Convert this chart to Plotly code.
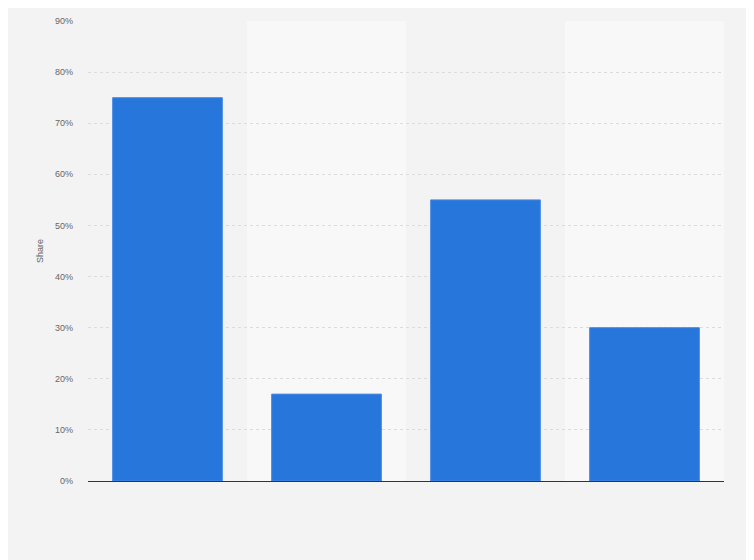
import plotly.graph_objects as go

# four unnamed categories (no labels shown in the source)
categories = ["Category 1", "Category 2", "Category 3", "Category 4"]
share = [75, 17, 55, 30]
tick_values = [0, 10, 20, 30, 40, 50, 60, 70, 80, 90]
tick_labels = ["0%", "10%", "20%", "30%", "40%", "50%", "60%", "70%", "80%", "90%"]

BLUE = "#2776dc"
PAGE = "#f3f3f3"
BAND = "#f8f8f8"


def create_figure():
    fig = go.Figure(go.Bar(
        x=categories, y=share,
        marker=dict(color=BLUE, line=dict(color="#4a8be3", width=1)),
        hovertemplate="%{y}%<extra></extra>",
    ))

    # alternate column shading behind the bars
    shapes = []
    for i in range(len(categories)):
        if i % 2 == 1:
            shapes.append(dict(
                type="rect", xref="x", yref="paper",
                x0=i - 0.5, x1=i + 0.5, y0=0, y1=1,
                fillcolor=BAND, line=dict(width=0), layer="below",
            ))

    # the page adds an 8px body margin, so the figure is a bit smaller than the window
    fig.update_layout(
        width=746, height=552,
        margin=dict(l=80, r=30, t=8, b=79),
        paper_bgcolor=PAGE, plot_bgcolor=PAGE,
        bargap=0.31,
        showlegend=False,
        shapes=shapes,
        font=dict(family="Liberation Sans, Arial, sans-serif", color="#666666"),
        xaxis=dict(
            showticklabels=False, showgrid=False, ticks="",
            showline=True, linecolor="#333333", linewidth=1.2,
            range=[-0.5, 3.5],
        ),
        yaxis=dict(
            range=[0, 90], tickvals=tick_values, ticktext=tick_labels,
            tickfont=dict(size=9, color="#666666"),
            showgrid=True, gridcolor="#dcdcdc", griddash="dot", gridwidth=1,
            zeroline=False, ticks="", ticklabelstandoff=14,
            title=dict(text="Share", font=dict(size=9, color="#666666"), standoff=9),
        ),
    )
    return fig


fig = create_figure()
fig.write_html("out.html")
